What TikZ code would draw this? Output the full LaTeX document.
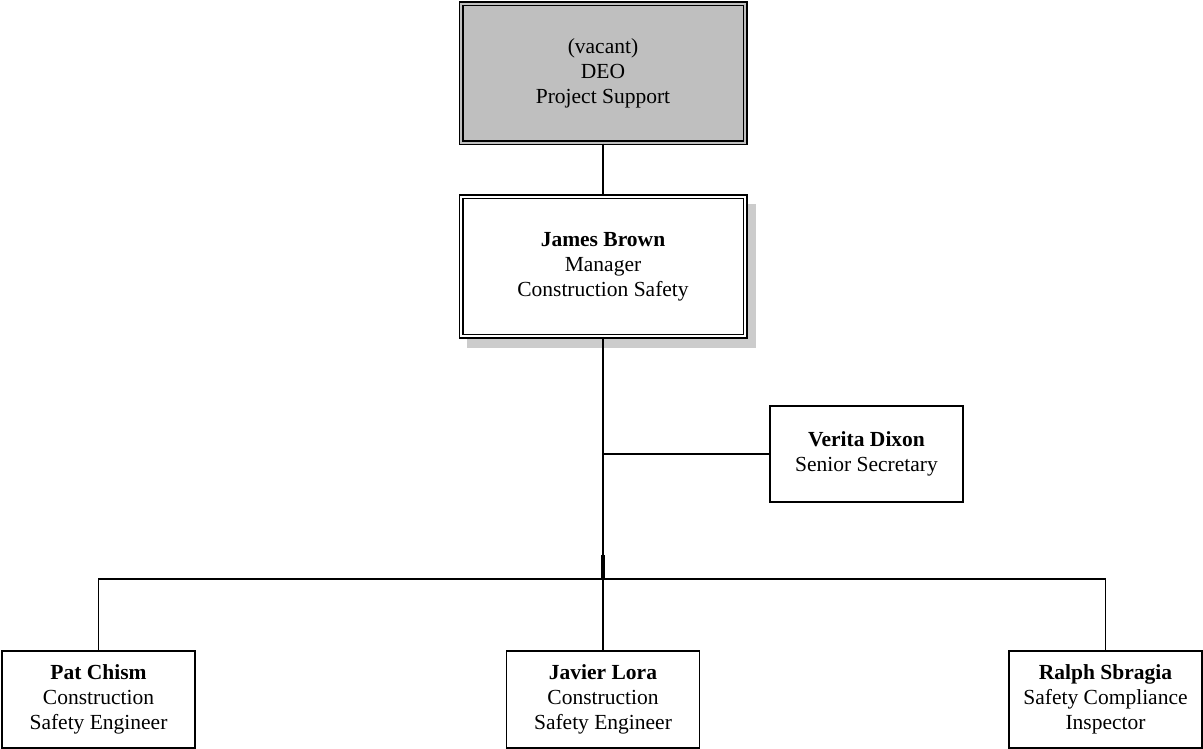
\documentclass[tikz,border=0pt]{standalone}
\usepackage{fontspec}
\setmainfont{Liberation Serif}
\begin{document}
\begin{tikzpicture}[x=1pt,y=-1pt,
  every node/.style={align=center,font=\fontsize{21.5}{25}\selectfont,inner sep=0pt},
  box/.style={draw,line width=1.6pt,fill=white,minimum width=193pt,minimum height=96pt},
  bigbox/.style={draw,line width=1.5pt,double distance=2pt,minimum width=284pt,minimum height=139pt},
  conn/.style={line width=1.5pt}]
\useasboundingbox (0,0) rectangle (1203,749);
% shadow of the manager box
\fill[gray!40] (467,204) rectangle (756,348);
\node[bigbox,fill=gray!50,double=gray!50] (deo) at (603,73.5) {(vacant)\\DEO\\Project Support};
\node[bigbox,fill=white,double=white] (james) at (603,266.5) {\textbf{James Brown}\\Manager\\Construction Safety};
\node[box] (verita) at (866.5,454) {\textbf{Verita Dixon}\\Senior Secretary};
\node[box,minimum height=97pt] (pat) at (98.5,699.5) {\textbf{Pat Chism}\\Construction\\Safety Engineer};
\node[box,minimum height=97pt] (javier) at (603,699.5) {\textbf{Javier Lora}\\Construction\\Safety Engineer};
\node[box,minimum height=97pt] (ralph) at (1105.5,699.5) {\textbf{Ralph Sbragia}\\Safety Compliance\\Inspector};
\coordinate (bus) at (603,579);
\draw[conn] (deo.south) -- (james.north);
\draw[conn] (james.south) -- (bus);
\draw[conn] (verita.west) -- (verita.west -| james.south);
\draw[conn] (pat.north) |- (bus) -| (ralph.north);
\draw[conn] (javier.north) -- (bus);
\draw[line width=3.4pt] (bus) -- ++(0,-24);
\end{tikzpicture}
\end{document}
